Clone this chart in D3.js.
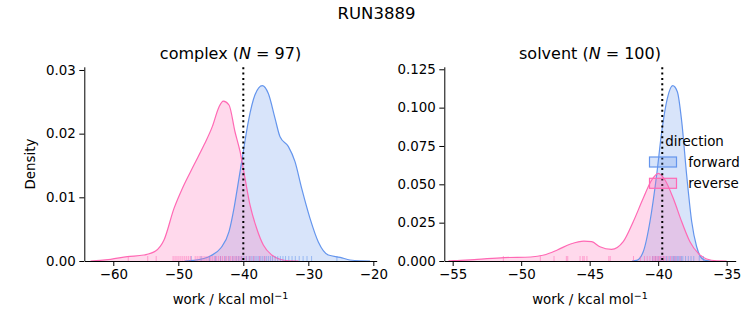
<!DOCTYPE html>
<html><head><meta charset="utf-8">
<script src="https://cdn.jsdelivr.net/npm/d3@7"></script>
<style>body{margin:0;background:#fff}svg{display:block;font-family:"DejaVu Sans",sans-serif}</style>
</head><body><svg id="c" width="753" height="325"></svg>
<script>
// ---- data ----
const suptitle = "RUN3889";
const panels = ["complex", "solvent"];
const panelN = [97, 100];
const directions = ["forward", "reverse"];
const refLines = [-40.0, -39.7];
const xTicksComplex = [-60, -50, -40, -30, -20];
const yTicksComplex = [0, 0.01, 0.02, 0.03];
const xTicksSolvent = [-55, -50, -45, -40, -35];
const yTicksSolvent = [0, 0.025, 0.05, 0.075, 0.1, 0.125];

// KDE curves: [work, density]
const complexForward = [[-49,0],[-47.6,0.0001],[-45.0,0.00083],[-43.5,0.002],[-42.2,0.0046],[-41.43,0.0083],[-41.0,0.0109],[-40.0,0.0172],[-39.23,0.0219],[-38.2,0.0261],[-37.08,0.02754],[-36.15,0.0263],[-35.12,0.0224],[-34.35,0.0195],[-33.08,0.018],[-32.05,0.0156],[-31.02,0.0114],[-29.74,0.0067],[-28.46,0.003],[-26.92,0.00094],[-25.1,0.00058],[-23.6,0.00016],[-22.0,0.00002],[-20.5,0]];
const complexReverse = [[-63.5,0],[-62.0,0.0001],[-60.4,0.00027],[-57.85,0.00068],[-55.3,0.00094],[-53.5,0.00157],[-52.2,0.0033],[-50.66,0.00827],[-49.38,0.0114],[-47.58,0.0151],[-46.05,0.0182],[-44.77,0.0211],[-43.74,0.0242],[-43.07,0.0251],[-42.2,0.0245],[-41.28,0.0203],[-40.5,0.0172],[-39.74,0.013],[-38.97,0.0088],[-37.94,0.0051],[-36.92,0.0025],[-35.63,0.00094],[-34.35,0.00027],[-33.0,0.00003],[-31.5,0]];
const solventForward = [[-41.9,0],[-41.57,0.0004],[-41.09,0.006],[-40.6,0.0256],[-40.11,0.0561],[-39.74,0.0843],[-39.33,0.1061],[-38.94,0.1143],[-38.6,0.1104],[-38.28,0.0909],[-37.92,0.0561],[-37.55,0.0256],[-37.19,0.0093],[-36.82,0.0018],[-36.46,0.0002],[-36.1,0]];
const solventReverse = [[-55.3,0.0001],[-54.9,0.0002],[-53.2,0.0011],[-51.25,0.0022],[-49.3,0.0026],[-48.34,0.0039],[-47.36,0.0072],[-46.39,0.0111],[-45.42,0.013],[-44.85,0.0126],[-44.25,0.0093],[-43.4,0.0076],[-42.55,0.0126],[-41.82,0.0256],[-41.09,0.0409],[-40.47,0.0528],[-39.99,0.0572],[-39.5,0.0528],[-38.9,0.0409],[-38.28,0.0256],[-37.68,0.0126],[-37.07,0.005],[-36.46,0.0013],[-35.73,0.0001],[-35.0,0]];

// rug samples
const complexForwardRug = [-48.0,-46.5,-45.2,-44.3,-43.5,-42.8,-42.2,-41.6,-41.1,-40.7,-40.3,-39.9,-39.5,-39.1,-38.8,-38.5,-38.2,-37.9,-37.6,-37.3,-37.0,-36.7,-36.4,-36.1,-35.8,-35.5,-35.1,-34.7,-34.3,-33.9,-33.5,-33.0,-32.5,-32.0,-31.4,-30.8,-30.2,-29.5,-25.6];
const complexReverseRug = [-57.7,-54.7,-53.4,-50.8,-50.5,-50.2,-49.9,-49.6,-49.3,-49.0,-48.7,-48.4,-48.1,-47.4,-47.1,-46.8,-46.5,-46.2,-45.9,-45.6,-45.3,-45.0,-44.7,-44.4,-44.1,-43.8,-43.5,-43.2,-42.9,-42.6,-42.3,-42.0,-41.7,-41.4,-41.1,-40.8,-40.5,-40.2,-39.6,-39.0,-38.4,-37.5,-36.7];
const solventForwardRug = [-40.4,-40.2,-40.0,-39.8,-39.6,-39.4,-39.2,-39.0,-38.9,-38.8,-38.7,-38.6,-38.5,-38.4,-38.3,-38.2,-38.0,-37.8,-37.6,-37.4,-37.0,-36.7];
const solventReverseRug = [-51.3,-48.6,-47.6,-46.7,-46.6,-45.7,-45.5,-45.4,-45.2,-43.6,-43.5,-41.8,-41.3,-41.0,-40.8,-40.6,-40.4,-40.3,-40.2,-40.1,-40.0,-39.9,-39.8,-39.7,-39.6,-39.5,-39.3,-39.1,-38.9,-38.7,-38.4];

// ---- drawing ----
const colors = {forward: "#6495ED", reverse: "#FF69B4"};
const svg = d3.select("#c");
const FS = 13.4;
const minus = v => (v < 0 ? "\u2212" + Math.abs(v) : String(v));

svg.append("text").attr("x", 376.5).attr("y", 19).attr("text-anchor", "middle")
  .attr("font-size", 16.5).text(suptitle);

const cfg = [
  {x0: 84.3, x1: 376.7, xd: [-64.46, -19.48], yd: [0, 0.03042], xt: xTicksComplex, yt: yTicksComplex, yf: d3.format(".2f"),
   curves: {forward: complexForward, reverse: complexReverse}, rugs: {forward: complexForwardRug, reverse: complexReverseRug}, ylabel: true},
  {x0: 444.3, x1: 735.7, xd: [-55.61, -34.34], yd: [0, 0.1263], xt: xTicksSolvent, yt: yTicksSolvent, yf: d3.format(".3f"),
   curves: {forward: solventForward, reverse: solventReverse}, rugs: {forward: solventForwardRug, reverse: solventReverseRug}, ylabel: false}
];
const yTop = 67.3, yBot = 261;

cfg.forEach((c, i) => {
  const x = d3.scaleLinear().domain(c.xd).range([c.x0, c.x1]);
  const y = d3.scaleLinear().domain(c.yd).range([yBot, yTop]);
  const g = svg.append("g");

  const area = d3.area().x(d => x(d[0])).y0(y(0)).y1(d => y(d[1])).curve(d3.curveMonotoneX);
  const line = d3.line().x(d => x(d[0])).y(d => y(d[1])).curve(d3.curveMonotoneX);
  directions.forEach(dir => {
    g.append("path").datum(c.curves[dir]).attr("d", area).attr("fill", colors[dir]).attr("fill-opacity", 0.25);
  });
  directions.forEach(dir => {
    g.append("path").datum(c.curves[dir]).attr("d", line).attr("fill", "none").attr("stroke", colors[dir]).attr("stroke-width", 1.2);
  });
  directions.forEach(dir => {
    g.selectAll(null).data(c.rugs[dir]).enter().append("line")
      .attr("x1", d => x(d)).attr("x2", d => x(d)).attr("y1", yBot).attr("y2", yBot - 5)
      .attr("stroke", colors[dir]).attr("stroke-opacity", 0.55).attr("stroke-width", 1);
  });

  // reference line
  g.append("line").attr("x1", x(refLines[i])).attr("x2", x(refLines[i])).attr("y1", yTop).attr("y2", yBot)
    .attr("stroke", "#000").attr("stroke-width", 2).attr("stroke-dasharray", "2,3.3");

  // axes
  const xa = g.append("g").attr("transform", `translate(0,${yBot})`)
    .call(d3.axisBottom(x).tickValues(c.xt).tickFormat(minus).tickSize(5).tickSizeOuter(0).tickPadding(3.5));
  const ya = g.append("g").attr("transform", `translate(${c.x0},0)`)
    .call(d3.axisLeft(y).tickValues(c.yt).tickFormat(c.yf).tickSize(5).tickSizeOuter(0).tickPadding(3.5));
  [xa, ya].forEach(a => {
    a.selectAll("text").attr("font-size", FS).attr("font-family", "DejaVu Sans").attr("fill", "#000");
    a.selectAll("line,path").attr("stroke", "#000").attr("stroke-width", 1);
  });
  ya.select(".domain").attr("d", `M0.5,${yBot}V${yTop}`);

  // titles
  const t = g.append("text").attr("x", (c.x0 + c.x1) / 2).attr("y", 59).attr("text-anchor", "middle").attr("font-size", 16);
  t.append("tspan").text(panels[i] + " (");
  t.append("tspan").attr("font-style", "italic").text("N");
  t.append("tspan").text(" = " + panelN[i] + ")");

  const xl = g.append("text").attr("x", (c.x0 + c.x1) / 2).attr("y", 304).attr("text-anchor", "middle").attr("font-size", FS);
  xl.append("tspan").text("work / kcal mol");
  xl.append("tspan").attr("dy", -5).attr("font-size", 9.5).text("\u22121");

  if (c.ylabel) {
    g.append("text").attr("transform", `translate(34.5,${(yTop + yBot) / 2}) rotate(-90)`)
      .attr("text-anchor", "middle").attr("font-size", FS).text("Density");
  }
});

// legend
const lg = svg.append("g");
lg.append("text").attr("x", 694.5).attr("y", 146).attr("text-anchor", "middle").attr("font-size", FS).text("direction");
directions.forEach((dir, k) => {
  const yy = 157 + k * 21.3;
  lg.append("rect").attr("x", 649.5).attr("y", yy).attr("width", 27).attr("height", 10)
    .attr("fill", colors[dir]).attr("fill-opacity", 0.25).attr("stroke", colors[dir]).attr("stroke-width", 1.2);
  lg.append("text").attr("x", 688.3).attr("y", yy + 9.5).attr("font-size", FS).text(dir);
});
</script>
</body></html>
